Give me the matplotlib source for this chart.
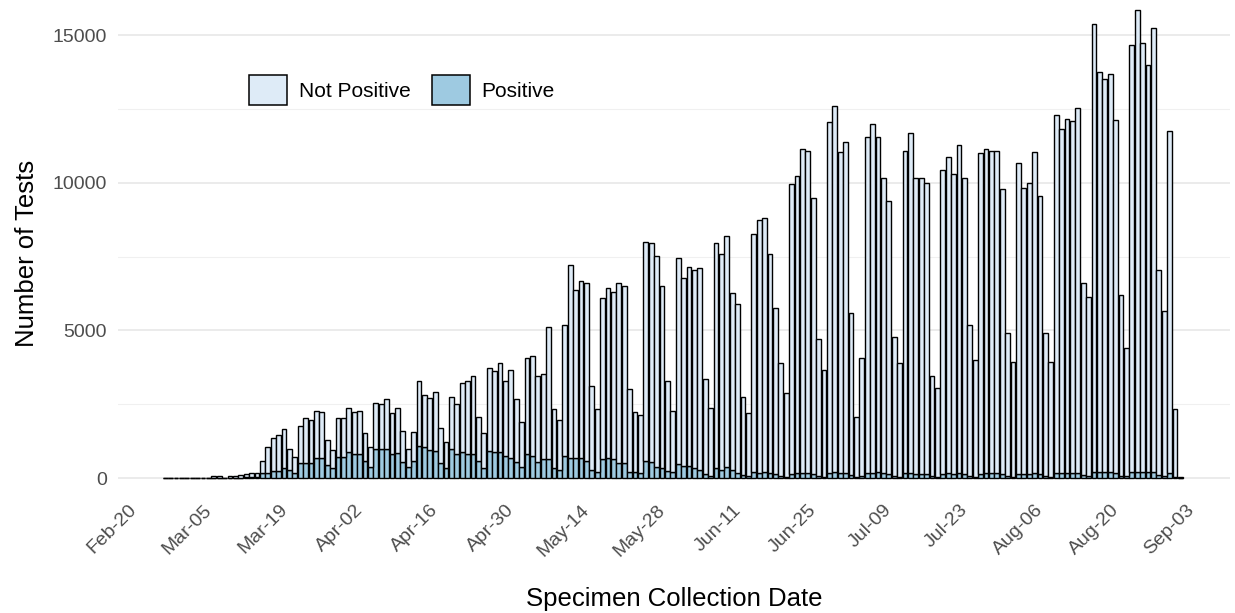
import matplotlib
matplotlib.use("Agg")
import matplotlib.pyplot as plt
import matplotlib.dates as mdates
import pandas as pd
from matplotlib.patches import Patch

plt.rcParams['font.family'] = ['Liberation Sans', 'DejaVu Sans']

# ---- data ----
dates = pd.date_range("2020-02-27", "2020-09-02", freq="D")

total_tests = [
    # Feb 27 - Mar 15
    3, 2, 3, 4, 3, 5, 4, 6, 8, 70, 60, 5, 55, 60, 90, 150, 160, 165,
    # Mar 16 onward
    585, 1050, 1345, 1455, 1660, 980, 700,
    1770, 2020, 1965, 2270, 2225, 1285, 950,
    2020, 2020, 2380, 2225, 2270, 1535, 1040,
    2550, 2495, 2665, 2190, 2360, 1590, 970,
    1570, 3285, 2810, 2720, 2925, 1705, 1230,
    2755, 2505, 3230, 3285, 3465, 2075, 1535,
    3715, 3635, 3885, 3285, 3660, 2675, 1885,
    4075, 4130, 3465, 3520, 5100, 2325, 1965,
    5170, 7215, 6365, 6670, 6615, 3115, 2325,
    6085, 6425, 6310, 6615, 6500, 3005, 2245,
    2135, 8000, 7945, 7520, 6500, 3295, 2270,
    7460, 6760, 7155, 7045, 7100, 3350, 2380,
    7945, 7575, 8195, 6255, 5880, 2755, 2210,
    8250, 8735, 8795, 7580, 5765, 3905, 2865,
    9945, 10225, 11140, 11085, 9470, 4695, 3655,
    12045, 12595, 11030, 11390, 5600, 2075, 4075,
    11560, 11990, 11560, 10170, 9380, 4785, 3885,
    11085, 11675, 10170, 10170, 9980, 3465, 3040,
    10430, 10880, 10295, 11275, 10170, 5170, 3995,
    11015, 11140, 11075, 11075, 9775, 4900, 3940,
    10655, 9810, 9980, 11030, 9560, 4900, 3940,
    12290, 11805, 12170, 12100, 12540, 6615, 6140,
    15375, 13760, 13510, 13680, 12125, 6195, 4390,
    14660, 15850, 14720, 13985, 15250, 7045, 5655,
    11750, 2325, 50,
]

positive = [
    0, 0, 0, 0, 0, 0, 0, 0, 0, 5, 5, 0, 3, 5, 10, 20, 25, 30,
    160, 160, 250, 250, 330, 270, 180,
    500, 500, 500, 665, 665, 440, 330,
    720, 720, 870, 810, 800, 560, 385,
    970, 970, 970, 800, 860, 550, 360,
    590, 1085, 1040, 950, 925, 500, 330,
    970, 810, 870, 810, 810, 575, 330,
    925, 870, 870, 745, 690, 530, 385,
    800, 745, 550, 630, 630, 330, 270,
    745, 665, 665, 665, 575, 270, 190,
    645, 690, 630, 520, 500, 215, 215,
    160, 575, 555, 385, 350, 250, 190,
    460, 405, 405, 330, 270, 125, 80,
    330, 270, 385, 270, 160, 100, 80,
    190, 160, 190, 160, 140, 60, 50,
    150, 160, 180, 170, 150, 70, 50,
    160, 200, 180, 170, 90, 40, 60,
    170, 180, 190, 160, 150, 70, 50,
    160, 170, 150, 150, 140, 60, 40,
    150, 160, 150, 180, 150, 70, 50,
    150, 160, 160, 160, 140, 60, 50,
    150, 140, 150, 160, 140, 60, 50,
    170, 170, 180, 170, 180, 90, 80,
    200, 190, 190, 190, 170, 80, 60,
    210, 220, 200, 200, 210, 90, 80,
    160, 40, 5,
]

not_positive = [t - p for t, p in zip(total_tests, positive)]

tick_labels = ["Feb-20", "Mar-05", "Mar-19", "Apr-02", "Apr-16", "Apr-30",
               "May-14", "May-28", "Jun-11", "Jun-25", "Jul-09", "Jul-23",
               "Aug-06", "Aug-20", "Sep-03"]
tick_dates = pd.date_range("2020-02-20", periods=len(tick_labels), freq="14D")

# ---- plot ----
fig = plt.figure(figsize=(12.35, 6.13), dpi=100)
ax = fig.add_axes([0.0955, 0.1865, 0.9005, 0.7995])

x = mdates.date2num(dates)
c_pos = "#9ECAE1"
c_neg = "#DEEBF7"
ax.bar(x, positive, width=0.9, color=c_pos, edgecolor="black", linewidth=1.0, zorder=3)
ax.bar(x, not_positive, width=0.9, bottom=positive, color=c_neg,
       edgecolor="black", linewidth=1.0, zorder=3)

ref = mdates.date2num(pd.Timestamp("2020-03-16"))
ax.set_xlim(ref - 26.76, ref + 179.2)
ax.set_ylim(-700, 15900)

ax.set_yticks([0, 5000, 10000, 15000])
ax.set_yticks([2500, 7500, 12500], minor=True)
ax.set_yticklabels(["0", "5000", "10000", "15000"])
ax.grid(axis="y", which="major", color="#E6E6E6", linewidth=1.1, zorder=0)
ax.grid(axis="y", which="minor", color="#F0F0F0", linewidth=0.8, zorder=0)
ax.grid(axis="x", visible=False)

ax.set_xticks(mdates.date2num(tick_dates))
ax.set_xticklabels(tick_labels, rotation=45, ha="right", va="top",
                   rotation_mode="anchor")
ax.tick_params(axis="both", which="both", length=0, labelsize=14,
               labelcolor="#4D4D4D")
ax.tick_params(axis="y", pad=8)
ax.tick_params(axis="x", pad=2)
for s in ax.spines.values():
    s.set_visible(False)

ax.set_ylabel("Number of Tests", fontsize=18.5, color="black", labelpad=10)
ax.set_xlabel("Specimen Collection Date", fontsize=18.5, color="black", labelpad=20)

handles = [Patch(facecolor=c_neg, edgecolor="black", linewidth=1.1, label="Not Positive"),
           Patch(facecolor=c_pos, edgecolor="black", linewidth=1.1, label="Positive")]
leg = ax.legend(handles=handles, ncol=2, loc="center left",
                bbox_to_anchor=(0.1178, 0.8337), frameon=False, fontsize=15,
                handlelength=1.83, handleheight=1.78, handletextpad=0.55,
                columnspacing=1.05, borderpad=0, borderaxespad=0)

fig.savefig("out.png", dpi=100)
